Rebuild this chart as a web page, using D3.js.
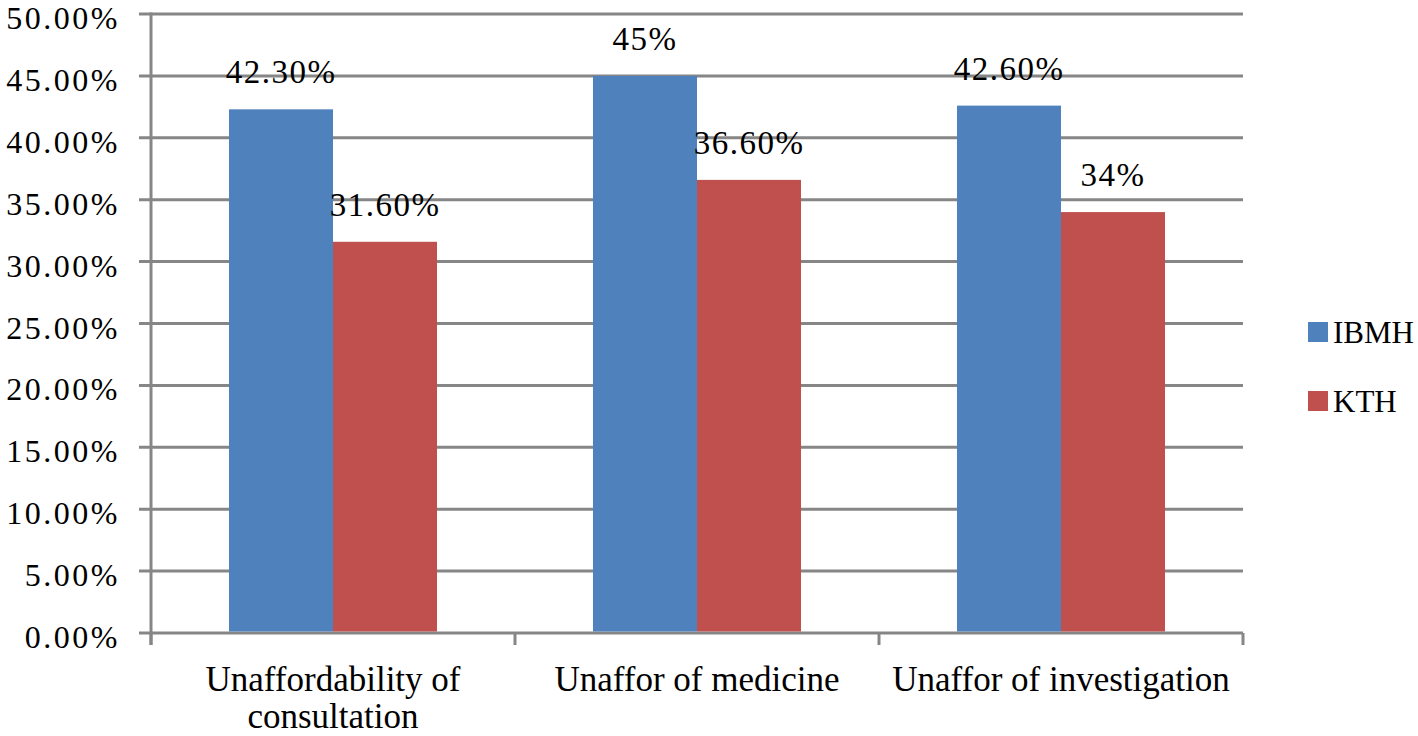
<!DOCTYPE html>
<html><head><meta charset="utf-8">
<script src="https://cdn.jsdelivr.net/npm/d3@7"></script>
<style>body{margin:0;background:#fff}svg{display:block}text{font-family:"Liberation Serif","Times New Roman",serif;fill:#000}</style>
</head><body><svg id="c" width="1418" height="736"></svg>
<script>
const categories = [["Unaffordability of","consultation"],["Unaffor of medicine"],["Unaffor of investigation"]];
const seriesNames = ["IBMH","KTH"];
const ibmh = [42.3, 45, 42.6];
const kth = [31.6, 36.6, 34];
const ibmhLabels = ["42.30%","45%","42.60%"];
const kthLabels = ["31.60%","36.60%","34%"];
const yTicks = [0,5,10,15,20,25,30,35,40,45,50];
const colors = ["#4F81BD","#C0504D"];

const svg = d3.select("#c");
const L=151, R=1243, T=14, B=633;
const y = d3.scaleLinear().domain([0,50]).range([B,T]);
const x = d3.scaleBand().domain(d3.range(categories.length)).range([L,R]).paddingInner(0).paddingOuter(0);
const grid="#868686";
// gridlines
svg.append("g").selectAll("line").data(yTicks).join("line")
  .attr("x1",139).attr("x2",R).attr("y1",d=>y(d)).attr("y2",d=>y(d))
  .attr("stroke",grid).attr("stroke-width",3);
// y axis line
svg.append("line").attr("x1",L).attr("x2",L).attr("y1",T-1.5).attr("y2",B+12).attr("stroke",grid).attr("stroke-width",3);
// x ticks
svg.append("g").selectAll("line").data(d3.range(categories.length+1)).join("line")
  .attr("x1",d=>L+d*x.bandwidth()).attr("x2",d=>L+d*x.bandwidth()).attr("y1",B).attr("y2",B+12)
  .attr("stroke",grid).attr("stroke-width",3);
// y labels
svg.append("g").selectAll("text").data(yTicks).join("text")
  .attr("x",120).attr("y",d=>y(d)+15).attr("text-anchor","end").attr("font-size",32)
  .attr("letter-spacing",2.5)
  .text(d=>d.toFixed(2)+"%");
// bars
const bw = 104, outer = (x.bandwidth()-2*bw)/2;
[ibmh,kth].forEach((vals,si)=>{
  svg.append("g").selectAll("rect").data(vals).join("rect")
    .attr("x",(d,i)=>x(i)+outer+si*bw).attr("width",bw)
    .attr("y",d=>y(d)).attr("height",d=>B-y(d)-1.5).attr("fill",colors[si]);
  const labs = si===0?ibmhLabels:kthLabels;
  svg.append("g").selectAll("text").data(vals).join("text")
    .attr("x",(d,i)=>x(i)+outer+si*bw+bw/2).attr("y",d=>y(d)-26)
    .attr("text-anchor","middle").attr("font-size",33).attr("letter-spacing",1.5).text((d,i)=>labs[i]);
});
// x labels
categories.forEach((lines,i)=>{
  const t = svg.append("text").attr("text-anchor","middle").attr("font-size",35);
  lines.forEach((ln,j)=>t.append("tspan").attr("x",x(i)+x.bandwidth()/2).attr("y",691+j*37).text(ln));
});
// legend
seriesNames.forEach((n,i)=>{
  svg.append("rect").attr("x",1308).attr("y",322+i*69).attr("width",20).attr("height",20).attr("fill",colors[i]);
  svg.append("text").attr("x",1333).attr("y",343+i*69).attr("font-size",31).text(n);
});
</script></body></html>
